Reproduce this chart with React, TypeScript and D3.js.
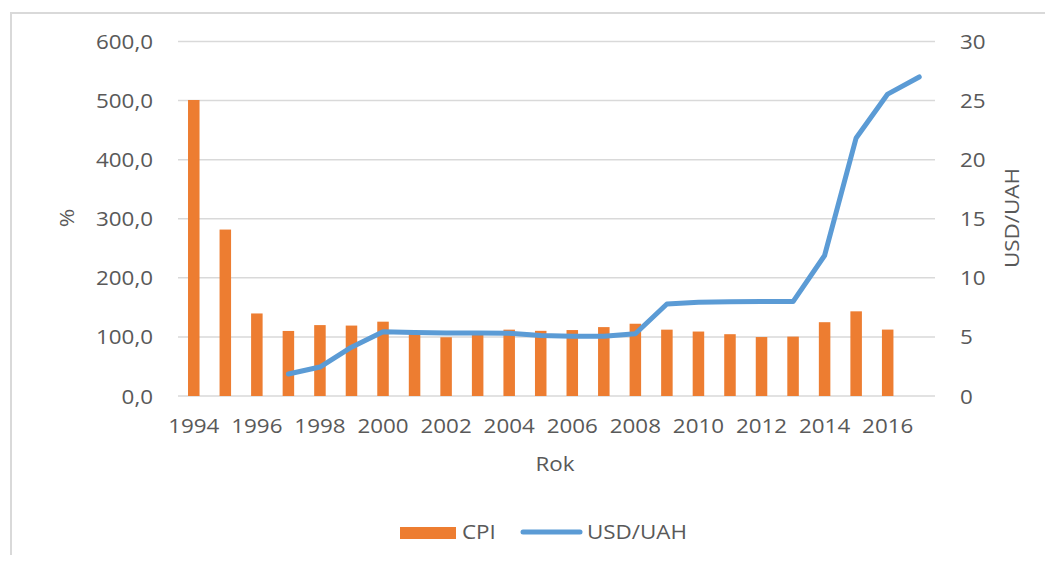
import React from "react";
import * as d3 from "d3";

const years: number[] = [1994, 1995, 1996, 1997, 1998, 1999, 2000, 2001, 2002, 2003, 2004, 2005, 2006, 2007, 2008, 2009, 2010, 2011, 2012, 2013, 2014, 2015, 2016, 2017];
const cpiYears: number[] = [1994, 1995, 1996, 1997, 1998, 1999, 2000, 2001, 2002, 2003, 2004, 2005, 2006, 2007, 2008, 2009, 2010, 2011, 2012, 2013, 2014, 2015, 2016];
const cpiValues: number[] = [501.0, 281.7, 139.7, 110.1, 120.0, 119.2, 125.8, 106.1, 99.4, 108.2, 112.3, 110.3, 111.6, 116.6, 122.3, 112.3, 109.1, 104.6, 99.8, 100.5, 124.9, 143.3, 112.4];
const fxYears: number[] = [1997, 1998, 1999, 2000, 2001, 2002, 2003, 2004, 2005, 2006, 2007, 2008, 2009, 2010, 2011, 2012, 2013, 2014, 2015, 2016, 2017];
const fxValues: number[] = [1.86, 2.45, 4.13, 5.44, 5.37, 5.33, 5.33, 5.32, 5.12, 5.05, 5.05, 5.27, 7.79, 7.94, 7.97, 7.99, 7.99, 11.89, 21.84, 25.55, 27.0];
const leftTicks: number[] = [0, 100, 200, 300, 400, 500, 600];
const rightTicks: number[] = [0, 5, 10, 15, 20, 25, 30];
const yearLabels: number[] = [1994, 1996, 1998, 2000, 2002, 2004, 2006, 2008, 2010, 2012, 2014, 2016];

const W = 1053;
const H = 563;
const plotLeft = 178;
const plotRight = 935;
const plotTop = 41.5;
const plotBottom = 396;
const TEXT = "#595959";
const GRID = "#D9D9D9";
const ORANGE = "#ED7D31";
const BLUE = "#5B9BD5";
const FONT = "'Open Sans', sans-serif";
const SX = 1.12;

function T(props: { x: number; y: number; anchor?: string; rotate?: number; children: React.ReactNode; size?: number }) {
  const { x, y, anchor = "start", rotate = 0, children, size = 20 } = props;
  return (
    <text
      transform={`translate(${x},${y}) rotate(${rotate}) scale(${SX},1)`}
      textAnchor={anchor}
      fontFamily={FONT}
      fontSize={size}
      fill={TEXT}
    >
      {children}
    </text>
  );
}

export default function App() {
  const x = d3
    .scaleBand<number>()
    .domain(years)
    .range([plotLeft, plotRight])
    .paddingInner(0.635)
    .paddingOuter(0.3175);
  const yL = d3.scaleLinear().domain([0, 600]).range([plotBottom, plotTop]);
  const yR = d3.scaleLinear().domain([0, 30]).range([plotBottom, plotTop]);
  const cx = (yr: number) => (x(yr) as number) + x.bandwidth() / 2;
  const fmtL = (v: number) => d3.format(".1f")(v).replace(".", ",");

  const line = d3
    .line<number>()
    .x((_, i) => cx(fxYears[i]))
    .y((d) => yR(d));

  return (
    <div style={{ margin: -8, width: W, height: H }}>
      <svg width={W} height={H} style={{ display: "block", background: "#fff" }}>
        <rect x={11} y={13} width={1200} height={700} fill="#fff" stroke={GRID} strokeWidth={2} />
        {leftTicks.map((t) => (
          <line key={"g" + t} x1={plotLeft} x2={plotRight} y1={yL(t)} y2={yL(t)} stroke={GRID} strokeWidth={1.5} />
        ))}
        {leftTicks.map((t) => (
          <T key={"l" + t} x={153} y={yL(t) + 7.5} anchor="end">
            {fmtL(t)}
          </T>
        ))}
        {rightTicks.map((t) => (
          <T key={"r" + t} x={960} y={yR(t) + 7.5} anchor="start">
            {t}
          </T>
        ))}
        {cpiYears.map((yr, i) => (
          <rect
            key={"b" + yr}
            x={x(yr) as number}
            y={yL(cpiValues[i])}
            width={x.bandwidth()}
            height={plotBottom - yL(cpiValues[i])}
            fill={ORANGE}
          />
        ))}
        <path
          d={line(fxValues) || ""}
          fill="none"
          stroke={BLUE}
          strokeWidth={5}
          strokeLinejoin="round"
          strokeLinecap="round"
        />
        {yearLabels.map((yr) => (
          <T key={"y" + yr} x={cx(yr)} y={433} anchor="middle">
            {yr}
          </T>
        ))}
        <T x={555} y={471} anchor="middle">Rok</T>
        <T x={74} y={218} anchor="middle" rotate={-90}>%</T>
        <T x={1019} y={218} anchor="middle" rotate={-90}>USD/UAH</T>
        <rect x={400} y={527} width={56} height={12} fill={ORANGE} />
        <T x={462} y={539} anchor="start">CPI</T>
        <line x1={523} x2={580} y1={532} y2={532} stroke={BLUE} strokeWidth={5} strokeLinecap="round" />
        <T x={587} y={539} anchor="start">USD/UAH</T>
      </svg>
    </div>
  );
}
